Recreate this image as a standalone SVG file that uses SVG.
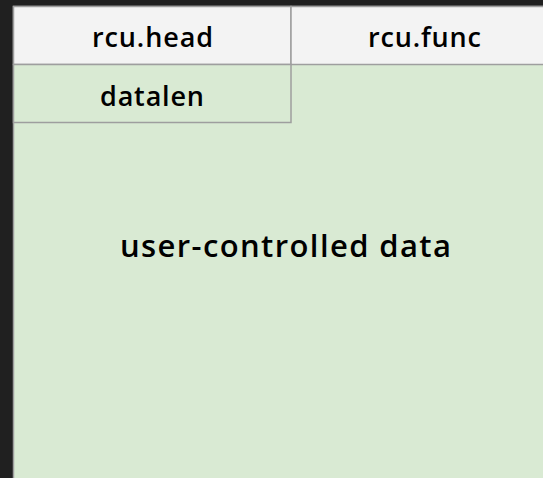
<svg xmlns="http://www.w3.org/2000/svg" width="543" height="478" viewBox="0 0 543 478">
<style>
.cell{stroke:#9e9e9e;stroke-width:1.5}
.hdr{fill:#f3f3f3}
.grn{fill:#d9ead3}
text{font-family:"Open Sans","Liberation Sans",sans-serif;font-weight:600;font-size:27px;fill:#000;text-anchor:middle}
.big{font-size:31px}
</style>
<rect x="0" y="0" width="543" height="478" fill="#202020"/>
<g id="body"><rect class="cell grn" x="13.5" y="6.5" width="540" height="480"/><text class="big" x="285.5" y="257" textLength="331">user-controlled data</text></g>
<g id="rcu_head"><rect class="cell hdr" x="13.5" y="6.5" width="277.5" height="58"/><text x="152.5" y="47" textLength="121">rcu.head</text></g>
<g id="rcu_func"><rect class="cell hdr" x="291" y="6.5" width="262" height="58"/><text x="424.5" y="47" textLength="113">rcu.func</text></g>
<g id="datalen"><rect class="cell grn" x="13.5" y="64.5" width="277.5" height="58"/><text x="152" y="106" textLength="104">datalen</text></g>
<g id="connectors"/>
</svg>
